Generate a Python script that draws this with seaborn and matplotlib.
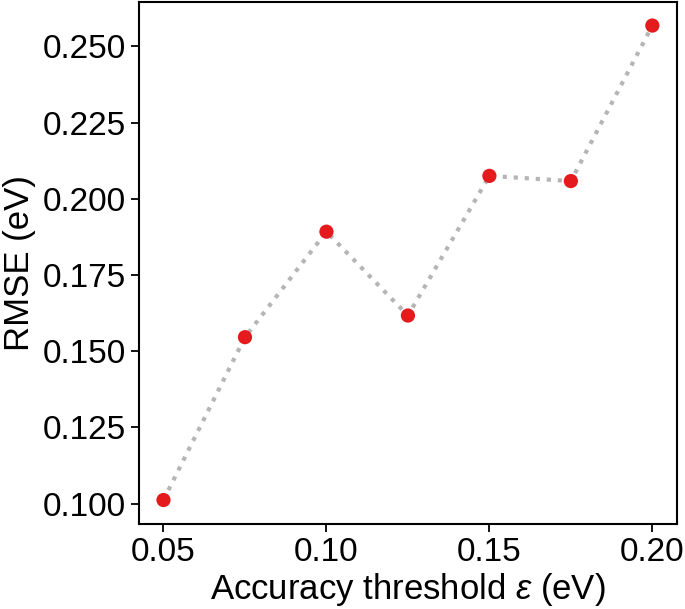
import matplotlib
matplotlib.use("Agg")
import matplotlib.pyplot as plt
import seaborn as sns
import pandas as pd

thresholds = [0.05, 0.075, 0.10, 0.125, 0.15, 0.175, 0.20]
rmse = [0.1012, 0.1546, 0.1892, 0.1617, 0.2075, 0.2058, 0.2568]
xticks = [0.05, 0.10, 0.15, 0.20]
yticks = [0.100, 0.125, 0.150, 0.175, 0.200, 0.225, 0.250]

sns.set_style("ticks")
plt.rcParams['font.family'] = ['Liberation Sans', 'DejaVu Sans']
plt.rcParams['text.color'] = 'black'
plt.rcParams['axes.labelcolor'] = 'black'
plt.rcParams['xtick.color'] = 'black'
plt.rcParams['ytick.color'] = 'black'
plt.rcParams['mathtext.fontset'] = 'custom'
plt.rcParams['mathtext.it'] = 'Liberation Sans:italic'
plt.rcParams['mathtext.rm'] = 'Liberation Sans'

df = pd.DataFrame({"x": thresholds, "y": rmse})

fig = plt.figure(figsize=(6.85, 6.09), dpi=100)
ax = fig.add_axes([0.203, 0.140, 0.785, 0.857])

sns.lineplot(data=df, x="x", y="y", ax=ax, color="#b5b5b5", linestyle=":",
             linewidth=3, zorder=1)
sns.scatterplot(data=df, x="x", y="y", ax=ax, color="#e41a1c", s=105,
                edgecolor="none", zorder=2)

ax.set_xticks(xticks)
ax.set_xticklabels([f"{v:.2f}" for v in xticks])
ax.set_yticks(yticks)
ax.set_yticklabels([f"{v:.3f}" for v in yticks])
ax.tick_params(axis="both", labelsize=24, length=6, width=1.3, color="black",
               labelcolor="black")
ax.set_xlabel("Accuracy threshold $\\varepsilon$ (eV)", fontsize=25, labelpad=2)
ax.set_ylabel("RMSE (eV)", fontsize=25, labelpad=5)
for sp in ax.spines.values():
    sp.set_linewidth(1.5)
    sp.set_color("black")

fig.savefig("out.png", dpi=100)
